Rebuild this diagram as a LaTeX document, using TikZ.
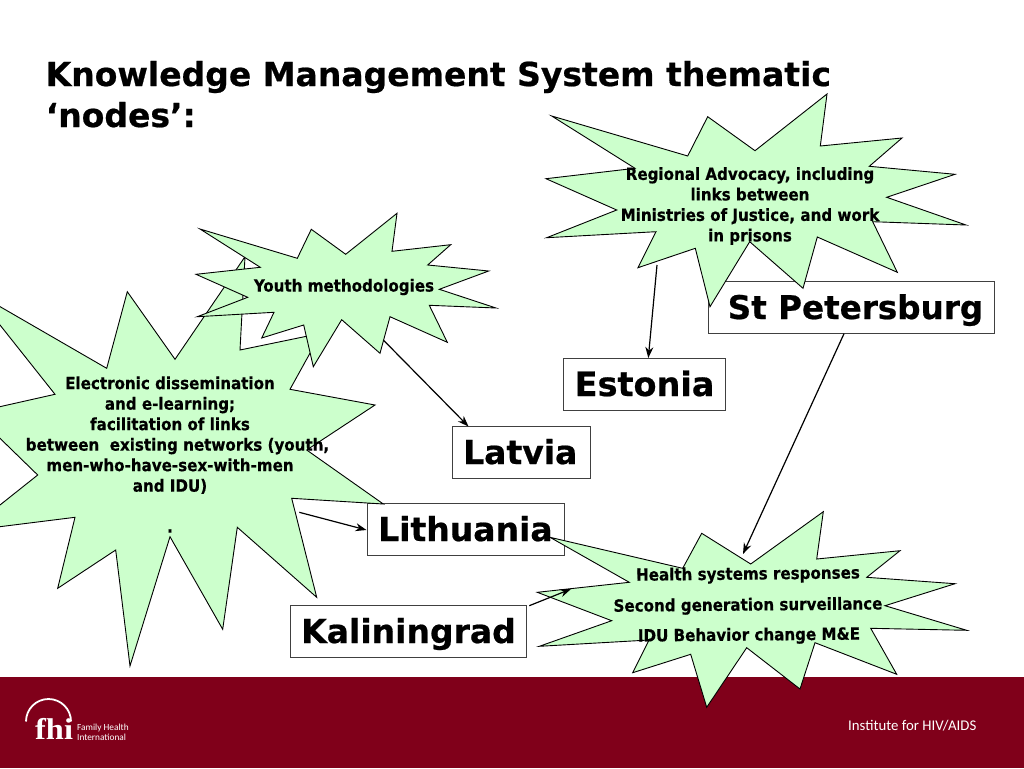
\documentclass[tikz,border=0pt]{standalone}
\usepackage{fontspec}
\usetikzlibrary{arrows.meta}
\setmainfont{DejaVu Sans}
\newfontfamily\verd[FakeBold=0.6]{DejaVu Sans Bold}
\newfontfamily\tah[FakeBold=0.5]{DejaVu Sans Condensed Bold}
\newfontfamily\logoserif[FakeStretch=1.08]{Liberation Serif Bold}
\newfontfamily\logosans{Carlito}
\definecolor{starfill}{HTML}{CCFFCC}
\definecolor{barred}{HTML}{80001A}
\definecolor{boxline}{HTML}{404040}
\tikzset{
  x=1pt,y=-1pt,
  star/.style={draw=black,fill=starfill,line width=0.9pt,line join=miter,miter limit=20},
  place/.style={draw=boxline,fill=white,line width=1pt,inner sep=0pt,minimum height=52pt,anchor=north west},
  placetext/.style={font=\verd\fontsize{33}{38}\selectfont,text=black},
  startext/.style={font=\tah\fontsize{16.8}{20.5}\selectfont,align=center,inner sep=0pt,text=black},
  link/.style={draw=black,line width=1.2pt,-{Stealth[length=11pt,width=8pt]}},
}
\begin{document}
\begin{tikzpicture}
\clip (0,0) rectangle (1024,768);
\fill[white] (0,0) rectangle (1024,768);
% title
\node[anchor=base west,inner sep=0pt,font=\verd\fontsize{33}{38}\selectfont] (title1) at (45.5,86) {Knowledge Management System thematic};
\node[anchor=base west,inner sep=0pt,font=\verd\fontsize{33}{38}\selectfont] (title2) at (45.5,127) {‘nodes’:};
% footer
\fill[barred] (0,677) rectangle (1024,768);
\draw[white,line width=1.8pt] (26,721.5) arc (-180:0:22.5);
\node[anchor=base west,inner sep=0pt,text=white,font=\logoserif\fontsize{30}{30}\selectfont] (fhi) at (35,739) {fhi};
\node[anchor=west,inner sep=0pt,text=white,font=\logosans\fontsize{9.3}{10}\selectfont,align=left] (fhitext) at (77,732) {Family Health\\International};
\node[anchor=west,inner sep=0pt,text=white,font=\logosans\fontsize{14.8}{16}\selectfont] (inst) at (848,725.5) {Institute for HIV/AIDS};
% place boxes
\node[place,minimum width=286pt] (stp) at (708.3,281.3) {};
\node[place,minimum width=162pt] (est) at (563,358) {};
\node[place,minimum width=138pt] (lat) at (452.3,426) {};
\node[place,minimum width=197pt] (lit) at (366.7,503.3) {};
\node[place,minimum width=236pt] (kal) at (290,605.3) {};
% electronic star
\path[star] (-27,291)--(106.7,368.3)--(127.3,291.7)--(175,359.3)--(245,256.7)--(240,350)--(321,333.3)--(290,389.3)--(375,405)--(306.7,450)--(383.3,504)--(291.7,498.3)--(316.7,597.3)--(237.3,527.3)--(222.7,629.3)--(170,536.7)--(130,666)--(115.7,550)--(57.7,588.3)--(75,517.3)--(-32.3,530.7)--(37.7,475)--(-26.4,412.6)--(55,394.3)--cycle;
% youth star
\path[star] (200,229)--(297.3,258.3)--(311.3,229.3)--(345.7,254.3)--(397,213.3)--(392,251.3)--(450.7,244.7)--(427.7,265)--(488.7,271)--(439.3,289.3)--(496,308)--(429.3,305.3)--(447.3,342.3)--(390,316.7)--(380,353.3)--(341.7,319.7)--(313.3,366.7)--(303.7,325)--(261.7,338)--(274,312.3)--(197.3,316.7)--(247.7,297.3)--(196,274.3)--(260.3,267.3)--cycle;
% regional star
\path[star] (551.7,116)--(687.7,156)--(707.7,116.7)--(755,150.7)--(827,94)--(820.3,146)--(902,138)--(869.3,166.3)--(955,174.3)--(886.7,197.3)--(966,225)--(872.7,221.7)--(897.3,272.3)--(817.3,237)--(803,288.3)--(749.7,241.7)--(710,306.7)--(695.3,248.3)--(638,267.7)--(656,231.7)--(546.7,237.7)--(616.7,210)--(546,178.7)--(635,168.3)--cycle;
% health star
\path[star] (550,537.3)--(682.7,568.3)--(701.7,533.3)--(750.7,564)--(823.3,511.7)--(816.7,559)--(900,550.7)--(866.7,577.3)--(955,583.7)--(885,605.7)--(966.7,630.3)--(870.7,628.3)--(896.7,674.3)--(815,642.7)--(800,689)--(746.7,647.7)--(706.7,707.3)--(690.7,654.3)--(632.7,672.7)--(649,640)--(539.3,646.3)--(611.7,620.7)--(537.3,592.3)--(629.3,582.3)--cycle;
% place labels
\node[placetext,anchor=base west,inner sep=0pt] (stpt) at (727.5,319) {\fontsize{32.6}{38}\selectfont St Petersburg};
\node[placetext,anchor=base west,inner sep=0pt] (estt) at (574.5,396) {\fontsize{33.5}{38}\selectfont Estonia};
\node[placetext,anchor=base west,inner sep=0pt] (latt) at (463,464) {Latvia};
\node[placetext,anchor=base west,inner sep=0pt] (litt) at (378,541) {Lithuania};
\node[placetext,anchor=base west,inner sep=0pt] (kalt) at (301,643) {Kaliningrad};
% star labels
\node[startext] (youth) at (344,287) {Youth methodologies};
\node[startext] (reg) at (750,206) {Regional Advocacy, including\\links between\\Ministries of Justice, and work\\in prisons};
\node[startext] (elec) at (170,454.5) {Electronic dissemination\\and e-learning;\\facilitation of links\\\hspace*{15pt}between~ existing networks (youth,\\men-who-have-sex-with-men\\and IDU)\\\strut\\.};
\node[startext,rotate=0.6] (h1) at (748,575) {Health systems responses};
\node[startext,rotate=0.5] (h2) at (748,606) {Second generation surveillance};
\node[startext,rotate=0.5] (h3) at (749,636) {IDU Behavior change M\&E};
% connectors
\coordinate (youthout) at (383.3,340);
\coordinate (latin) at (468.5,426.5);
\coordinate (regout) at (657,265);
\coordinate (estin) at (648.3,358);
\coordinate (stpout) at (844,333.7);
\coordinate (healthin) at (743,554);
\coordinate (elecout) at (299.3,512.3);
\coordinate (litin) at (366.5,530);
\coordinate (kalout) at (529.3,605.7);
\coordinate (healthwest) at (571,589);
\draw[link] (youthout) -- (latin);
\draw[link] (regout) -- (estin);
\draw[link] (stpout) -- (healthin);
\draw[link] (elecout) -- (litin);
\draw[link] (kalout) -- (healthwest);
\end{tikzpicture}
\end{document}
